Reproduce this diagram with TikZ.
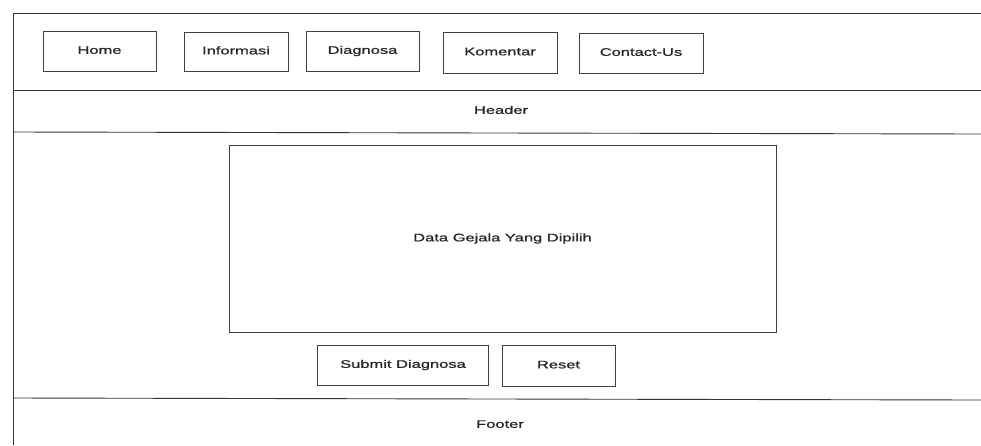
\documentclass[tikz,border=0pt]{standalone}
\usepackage{fontspec}
\newfontfamily\uifont[FakeStretch=1.5,FakeBold=0.8]{Liberation Sans}
\begin{document}
\begin{tikzpicture}[x=1pt,y=-1pt,
  frameline/.style={draw=black!80,line width=0.9pt},
  uitext/.style={font=\uifont\fontsize{11}{13}\selectfont,text=black!85,
    text height=8pt,text depth=2.3pt},
  uibox/.style={uitext,draw=black!75,line width=0.8pt,fill=none,inner sep=0pt},
  label/.style={uitext,inner sep=0pt}]
\useasboundingbox (0,0) rectangle (981,445);
\fill[white] (0,0) rectangle (981,445);

% page frame and section dividers
\coordinate (tl) at (13,13);
\coordinate (tr) at (981,13);
\coordinate (bl) at (13,445);
\draw[frameline] (tr) -- (tl) -- (bl);
\coordinate (h1l) at (13,90);   \coordinate (h1r) at (981,90);
\coordinate (h2l) at (13,132);  \coordinate (h2r) at (981,134);
\coordinate (f1l) at (13,398);  \coordinate (f1r) at (981,400);
\draw[frameline] (h1l) -- (h1r);
\draw[frameline] (h2l) -- (h2r);
\draw[frameline] (f1l) -- (f1r);

% navigation buttons
\node[uibox,minimum width=113,minimum height=40] (home) at (99.5,51) {Home};
\node[uibox,minimum width=104,minimum height=39] (info) at (236,51.5) {Informasi};
\node[uibox,minimum width=113,minimum height=40] (diag) at (362.5,51) {Diagnosa};
\node[uibox,minimum width=114,minimum height=41] (kom) at (500,52.5) {Komentar};
\node[uibox,minimum width=124,minimum height=40] (contact) at (641,53) {Contact-Us};

% section labels
\node[label] (header) at (501,111) {Header};
\node[label] (footer) at (500,425) {Footer};

% content area
\node[uibox,minimum width=547,minimum height=187] (data) at (502.5,238.5) {Data Gejala Yang Dipilih};

% form buttons
\node[uibox,minimum width=171,minimum height=40] (submit) at (403,365) {Submit Diagnosa};
\node[uibox,minimum width=113,minimum height=41] (reset) at (558.5,365.5) {Reset};
\end{tikzpicture}
\end{document}
